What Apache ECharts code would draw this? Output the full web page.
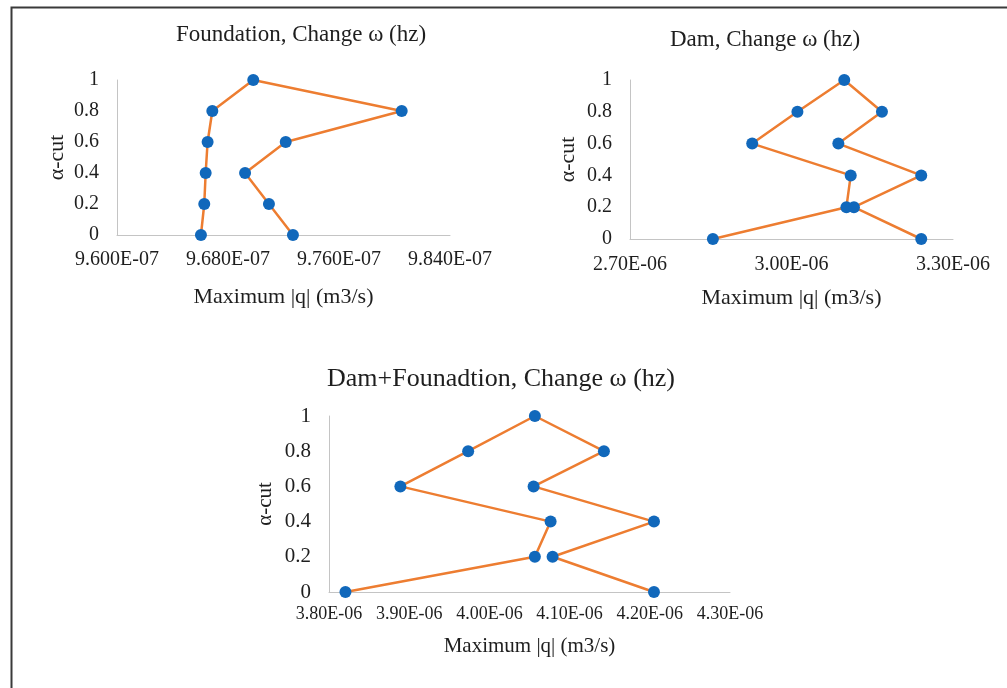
<!DOCTYPE html>
<html>
<head>
<meta charset="utf-8">
<script src="https://cdn.jsdelivr.net/npm/echarts@6/dist/echarts.min.js"></script>
<style>
html,body{margin:0;padding:0;background:#fff;}
#chart{width:1007px;height:688px;}
</style>
</head>
<body>
<div id="chart"></div>
<script>
// α-cut levels in the order the points are connected
const alphaCut = [0, 0.2, 0.4, 0.6, 0.8, 1, 0.8, 0.6, 0.4, 0.2, 0];
// Maximum |q| (m3/s) values
const foundationQ = [9.6605e-7, 9.6629e-7, 9.6639e-7, 9.6653e-7, 9.6687e-7, 9.6982e-7, 9.8052e-7, 9.7216e-7, 9.6923e-7, 9.7095e-7, 9.7268e-7];
const damQ = [2.854e-6, 3.102e-6, 3.110e-6, 2.927e-6, 3.011e-6, 3.098e-6, 3.168e-6, 3.087e-6, 3.241e-6, 3.116e-6, 3.241e-6];
const damFoundationQ = [3.8205e-6, 4.0567e-6, 4.0763e-6, 3.889e-6, 3.9735e-6, 4.0567e-6, 4.1428e-6, 4.0551e-6, 4.2052e-6, 4.0788e-6, 4.2052e-6];
// Titles and axis names
const titles = ['Foundation, Change \u03c9 (hz)', 'Dam, Change \u03c9 (hz)', 'Dam+Founadtion, Change \u03c9 (hz)'];
const xName = 'Maximum |q| (m3/s)';
const yName = '\u03b1-cut';
// x-axis scales
const xMin = [9.6e-7, 2.7e-6, 3.8e-6];
const xMax = [9.84e-7, 3.3e-6, 4.3e-6];
const xStep = [8e-9, 3e-7, 1e-7];
const xDigits = [3, 2, 2];

function sci(d) {
  return function (v) {
    const s = Number(v).toExponential(d).toUpperCase();
    return s.replace(/E([+-])(\d+)$/, function (m, sg, ex) {
      return 'E' + sg + (ex.length < 2 ? '0' + ex : ex);
    });
  };
}
function pairs(xs) { return xs.map((x, i) => [x, alphaCut[i]]); }

const FONT = '"Liberation Serif", "Times New Roman", serif';
const TXT = '#1e1e1e';
const AX = '#c4c4c4';

const grids = [
  {left: 117, top: 80, width: 333, height: 155},
  {left: 630, top: 80, width: 323, height: 159},
  {left: 329, top: 416, width: 401, height: 176}
];
const tickFont = [20, 20, 18];
const yTickFont = [20, 20, 21];
const nameFont = [22, 22, 21];
const xLabelMargin = [15, 16, 13];
const xNameGap = [51, 48, 44];
const yNameGap = [49, 51, 53];

const xAxes = [], yAxes = [], series = [];
const qSets = [foundationQ, damQ, damFoundationQ];
for (let i = 0; i < 3; i++) {
  xAxes.push({
    type: 'value', gridIndex: i, min: xMin[i], max: xMax[i], interval: xStep[i],
    axisLine: {show: true, lineStyle: {color: AX, width: 1}},
    axisTick: {show: false}, splitLine: {show: false},
    axisLabel: {formatter: sci(xDigits[i]), color: TXT, fontFamily: FONT, fontSize: tickFont[i], margin: xLabelMargin[i]},
    name: xName, nameLocation: 'middle', nameGap: xNameGap[i],
    nameTextStyle: {color: TXT, fontFamily: FONT, fontSize: nameFont[i]}
  });
  yAxes.push({
    type: 'value', gridIndex: i, min: 0, max: 1, interval: 0.2,
    axisLine: {show: true, lineStyle: {color: AX, width: 1}},
    axisTick: {show: false}, splitLine: {show: false},
    axisLabel: {color: TXT, fontFamily: FONT, fontSize: yTickFont[i], margin: 18},
    name: yName, nameLocation: 'middle', nameGap: yNameGap[i],
    nameTextStyle: {color: TXT, fontFamily: FONT, fontSize: nameFont[i]}
  });
  series.push({
    type: 'line', xAxisIndex: i, yAxisIndex: i, data: pairs(qSets[i]),
    symbol: 'circle', symbolSize: 12, showSymbol: true,
    itemStyle: {color: '#1168bb'},
    lineStyle: {color: '#ed7d31', width: 2.5},
    z: 3
  });
}

const chart = echarts.init(document.getElementById('chart'), null, {renderer: 'canvas'});
chart.setOption({
  animation: false,
  backgroundColor: '#ffffff',
  title: [
    {text: titles[0], left: 296, top: 18, textAlign: 'center', textStyle: {color: TXT, fontFamily: FONT, fontSize: 23, fontWeight: 'normal'}},
    {text: titles[1], left: 760, top: 23, textAlign: 'center', textStyle: {color: TXT, fontFamily: FONT, fontSize: 23, fontWeight: 'normal'}},
    {text: titles[2], left: 496, top: 361, textAlign: 'center', textStyle: {color: TXT, fontFamily: FONT, fontSize: 26, fontWeight: 'normal'}}
  ],
  graphic: [{
    type: 'rect', left: 9, top: 5, silent: true,
    shape: {x: 0, y: 0, width: 1100, height: 800},
    style: {fill: 'none', stroke: '#3a3a3a', lineWidth: 2}
  }],
  grid: grids,
  xAxis: xAxes,
  yAxis: yAxes,
  series: series
});
</script>
</body>
</html>
